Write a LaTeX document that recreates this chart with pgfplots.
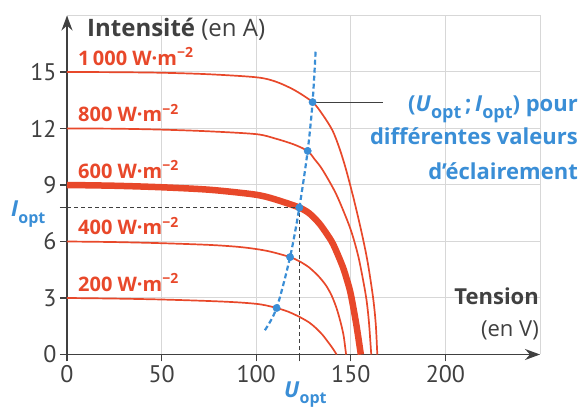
\documentclass[border=0pt]{standalone}
\usepackage{fontspec}
\setmainfont{PT Sans}
\newfontfamily\os{Open Sans}
\usepackage{pgfplots}
\pgfplotsset{compat=1.18}
\usetikzlibrary{arrows.meta}
\definecolor{cred}{RGB}{232,72,42}
\definecolor{cblue}{RGB}{58,142,214}
\definecolor{axgray}{RGB}{64,64,64}
\definecolor{gridgray}{RGB}{215,215,215}
\newcommand{\lbl}{\os\fontsize{20bp}{20bp}\selectfont\bfseries}
\newcommand{\ticktxt}{\fontsize{24bp}{24bp}\selectfont}
\newcommand{\axtxt}{\os\fontsize{22bp}{22bp}\selectfont}
\newcommand{\anntxt}{\os\fontsize{22bp}{22bp}\selectfont\bfseries}
\newcommand{\opt}[1]{\raisebox{-0.3em}{\fontsize{#1}{#1}\selectfont opt}}

\begin{document}
\begin{tikzpicture}
\path[use as bounding box] (0bp,0bp) rectangle (580bp,408bp);
\begin{axis}[
  at={(67bp,53.5bp)}, anchor=south west,
  scale only axis, width=473bp, height=339bp,
  xmin=0, xmax=250, ymin=0, ymax=18,
  axis lines=left,
  axis line style={axgray, line width=1.3bp},
  x axis line style={-{Stealth[length=15bp,width=11bp]}},
  y axis line style={-{Stealth[length=15bp,width=11bp]}},
  xtick={0,50,100,150,200}, ytick={0,3,6,9,12,15},
  minor xtick={122.8}, minor ytick={7.8},
  extra x ticks={250}, extra y ticks={18},
  extra x tick labels={}, extra y tick labels={},
  extra tick style={major tick length=0pt},
  grid=major,
  grid style={gridgray, line width=1bp},
  tick align=outside,
  major tick length=7bp, minor tick length=7bp,
  tick style={axgray, line width=1.2bp},
  every tick label/.append style={font=\ticktxt, text=axgray},
  /pgf/number format/assume math mode=true,
  clip=false,
]
% 1000 W/m2
\addplot[cred, line width=1.7bp, smooth, tension=0.5] coordinates {
  (0,15) (25,14.99) (50,14.96) (75,14.88) (100,14.72) (110,14.5) (120,14.05)
  (129.8,13.4) (135,12.75) (140.3,11.9) (144,10.95) (147.4,9.85) (151.7,8.2)
  (156,6.35) (159,4.85) (161.8,3.0) (163.2,1.6) (164,0)
};
% 800 W/m2
\addplot[cred, line width=1.7bp, smooth, tension=0.5] coordinates {
  (0,12) (25,11.99) (50,11.94) (75,11.85) (100,11.7) (110,11.47) (120,11.15)
  (127.2,10.8) (131,10.35) (135.1,9.8) (142.1,8.55) (148.2,7.1) (151,6.3)
  (154,5.2) (156.5,3.95) (158.3,2.9) (159.6,1.7) (160.8,0)
};
% 600 W/m2
\addplot[cred, line width=6.5bp, smooth, tension=0.5] coordinates {
  (0,9) (25,8.96) (50,8.88) (75,8.75) (96.5,8.53) (105,8.38) (114,8.11)
  (122.8,7.8) (128,7.5) (133,7.0) (137,6.45) (140.7,5.85) (145.6,4.7)
  (148,3.95) (150,3.2) (152.9,1.6) (155.3,0)
};
% 400 W/m2
\addplot[cred, line width=1.7bp, smooth, tension=0.5] coordinates {
  (0,6) (25,5.97) (50,5.91) (75,5.82) (90,5.72) (100,5.6) (108,5.45)
  (117.9,5.17) (123,4.94) (128,4.62) (133,4.15) (137,3.65) (140,3.1)
  (142.5,2.45) (144.5,1.75) (146.2,1.0) (147.5,0)
};
% 200 W/m2
\addplot[cred, line width=1.7bp, smooth, tension=0.5] coordinates {
  (0,3) (25,2.97) (50,2.92) (75,2.84) (90,2.77) (100,2.69) (105,2.61)
  (110.8,2.47) (117,2.27) (123,1.99) (128,1.7) (131.6,1.4) (135,1.05)
  (138.6,0.58) (140.8,0.27) (142.5,0)
};
% repères Uopt / Iopt
\addplot[axgray, line width=1bp, dash pattern=on 4bp off 3bp] coordinates {
  (0,7.8) (122.8,7.8) (122.8,0)
};
% trait de rappel
\addplot[axgray, line width=1bp] coordinates {(129.8,13.4) (167,13.4)};
% points de puissance maximale
\addplot[cblue, line width=2.2bp, dash pattern=on 5bp off 3bp, smooth] coordinates {
  (104.6,1.29) (110.8,2.47) (117.9,5.17) (122.8,7.8) (127.2,10.81) (129.8,13.4) (131.4,16.1)
};
\addplot[cblue, only marks, mark=*, mark size=3.7bp] coordinates {
  (110.8,2.47) (117.9,5.17) (122.8,7.8) (127.2,10.81) (129.8,13.4)
};
\node[anchor=base west, inner sep=0, text=cred, font=\lbl] at (axis cs:5.8,15.37) {1\,000 W·m\textsuperscript{−2}};
\node[anchor=base west, inner sep=0, text=cred, font=\lbl] at (axis cs:5.8,12.37) {800 W·m\textsuperscript{−2}};
\node[anchor=base west, inner sep=0, text=cred, font=\lbl] at (axis cs:5.8,9.37) {600 W·m\textsuperscript{−2}};
\node[anchor=base west, inner sep=0, text=cred, font=\lbl] at (axis cs:5.8,6.37) {400 W·m\textsuperscript{−2}};
\node[anchor=base west, inner sep=0, text=cred, font=\lbl] at (axis cs:5.8,3.37) {200 W·m\textsuperscript{−2}};
\end{axis}
\node[anchor=base west, inner sep=0, text=axgray, font=\os\fontsize{24bp}{24bp}\selectfont] at (87bp,371bp) {\textbf{Intensité} (en A)};
\node[anchor=base east, inner sep=0, text=axgray, font=\axtxt\bfseries] at (539bp,103bp) {Tension};
\node[anchor=base east, inner sep=0, text=axgray, font=\axtxt] at (539bp,71bp) {(en V)};
\node[anchor=base west, inner sep=0, text=cblue, font=\anntxt] at (11bp,191bp) {\textit{I}\opt{16bp}};
\node[anchor=base west, inner sep=0, text=cblue, font=\anntxt] at (284bp,11bp) {\textit{U}\opt{16bp}};
\node[anchor=base east, inner sep=0, text=cblue, font=\anntxt] at (578bp,296.3bp) {(\textit{U}\opt{18bp}\,;\,\textit{I}\opt{18bp}) pour};
\node[anchor=base east, inner sep=0, text=cblue, font=\anntxt] at (578bp,263bp) {différentes valeurs};
\node[anchor=base east, inner sep=0, text=cblue, font=\anntxt] at (578bp,228bp) {d’éclairement};
\end{tikzpicture}
\end{document}
